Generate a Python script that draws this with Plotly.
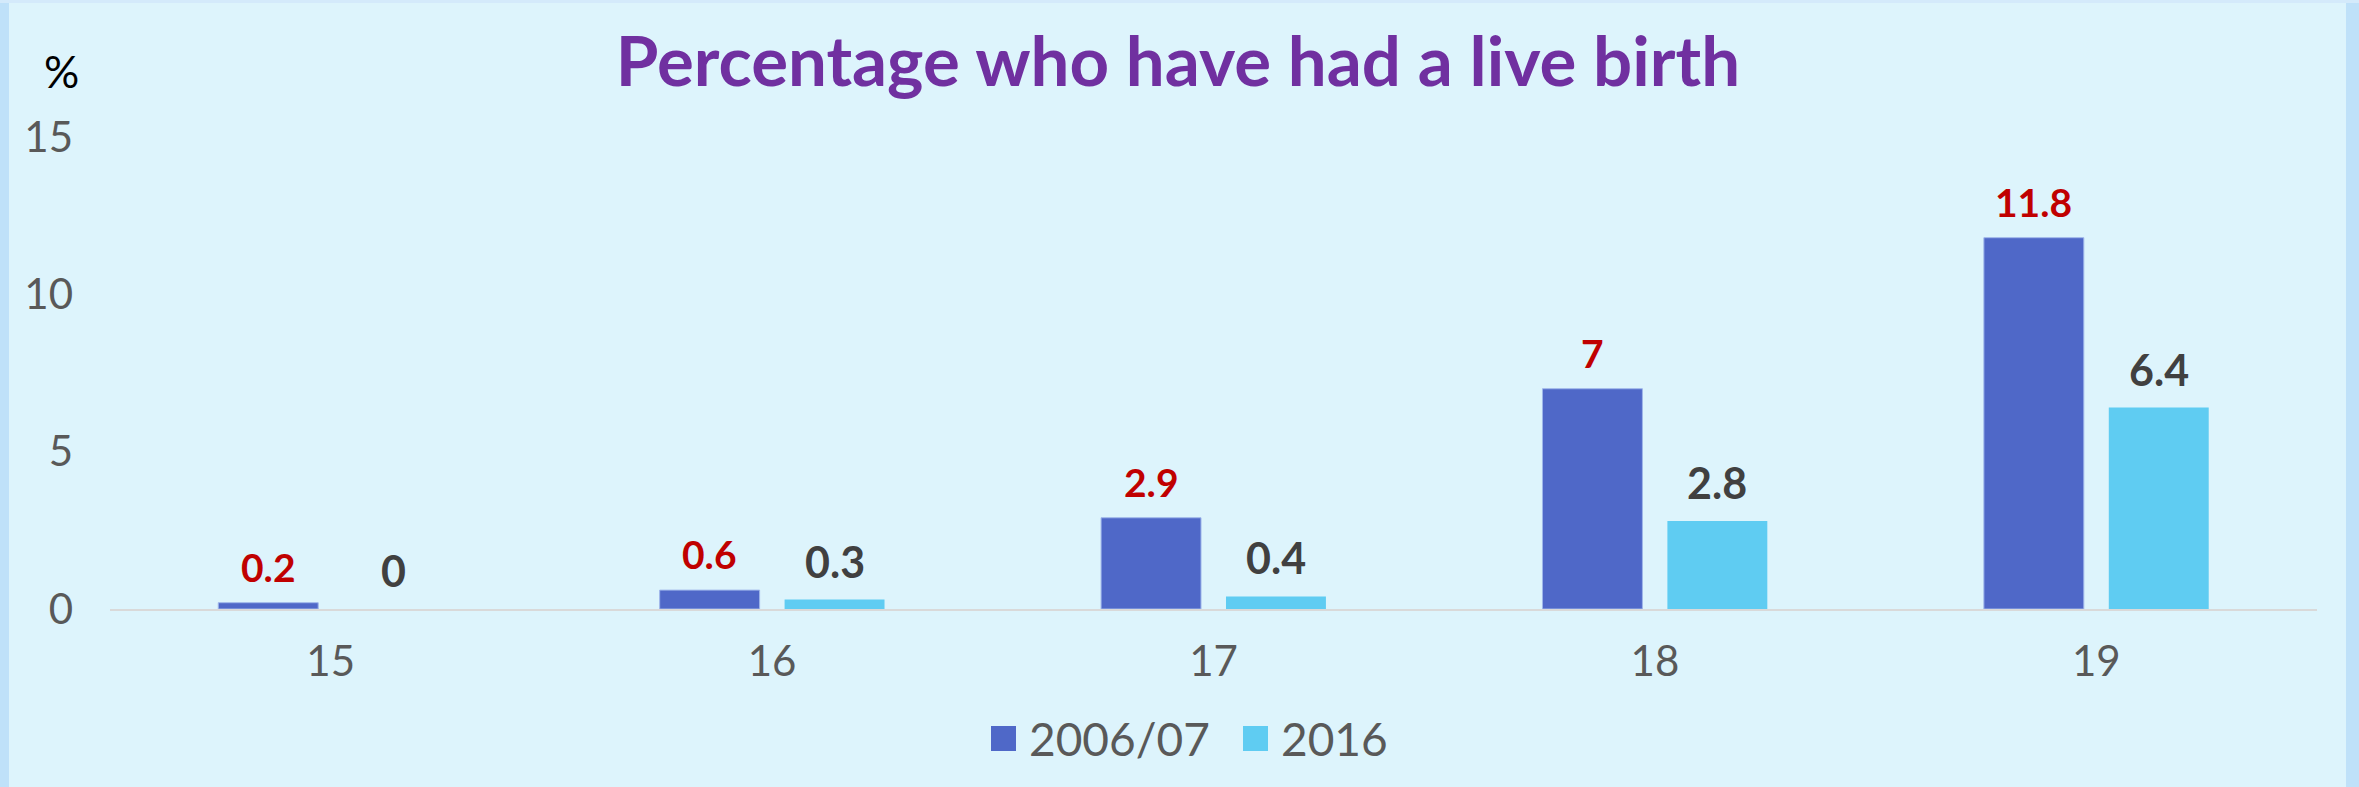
import plotly.graph_objects as go

# data
ages = ["15", "16", "17", "18", "19"]
pct_2006 = [0.2, 0.6, 2.9, 7.0, 11.8]
pct_2016 = [0.0, 0.3, 0.4, 2.8, 6.4]
series_names = ["2006/07", "2016"]
y_ticks = [0, 5, 10, 15]

W, H = 2359, 787
L, R, T, B = 110, 42, 137, 178
PW, PH = W - L - R, H - T - B
BARGAP, GROUPGAP = 0.434, 0.2

BG = "#DDF4FC"
EDGE = "#BFE1F9"
C_2006 = "#4F68C8"
C_2016 = "#5FCCF2"
LBL_2006 = "#C00000"
LBL_2016 = "#404040"
GREY = "#595959"
FONT = "Lato"


def px(x, y):
    """pixel position on the page -> paper coords"""
    return (x - L) / PW, (H - B - y) / PH


fig = go.Figure()
for name, vals, col, lw in [(series_names[0], pct_2006, C_2006, 1),
                            (series_names[1], pct_2016, C_2016, 0)]:
    fig.add_trace(go.Bar(x=ages, y=vals, name=name, showlegend=False,
                         marker=dict(color=col, line=dict(color="#9FB6EA", width=lw))))

# value labels above the bars (category axis -> annotation x is the category index)
slot = PW / len(ages) * (1 - BARGAP) / 2
anns = []
for vals, col, size, sh in [(pct_2006, LBL_2006, 39, -slot / 2),
                            (pct_2016, LBL_2016, 43, slot / 2)]:
    for i, v in enumerate(vals):
        anns.append(dict(x=i, y=v, xref="x", yref="y", text=f"{v:g}", showarrow=False,
                         xshift=sh, yshift=11, yanchor="bottom",
                         font=dict(family=FONT, size=size, color=col, weight="bold")))

# "%" unit label
x0, y0 = px(62, 71)
anns.append(dict(x=x0, y=y0, xref="paper", yref="paper", text="%", showarrow=False,
                 xanchor="center", yanchor="middle",
                 font=dict(family=FONT, size=44, color="#000000")))

# legend drawn by hand so the swatches can be as big as the original
shapes = []
for name, col, sq_x in [(series_names[0], C_2006, 991), (series_names[1], C_2016, 1243)]:
    xa, ya = px(sq_x, 751)
    xb, yb = px(sq_x + 25, 726)
    shapes.append(dict(type="rect", xref="paper", yref="paper", x0=xa, y0=ya, x1=xb, y1=yb,
                       fillcolor=col, line=dict(width=0)))
    tx, ty = px(sq_x + 36, 738)
    anns.append(dict(x=tx, y=ty, xref="paper", yref="paper", text=name, showarrow=False,
                     xanchor="left", yanchor="middle",
                     font=dict(family=FONT, size=46, color=GREY)))

# frame strips at the page edges
for (xa, ya, xb, yb), col in [((0, 0, 9, H), EDGE), ((W - 13, 0, W, H), EDGE),
                              ((0, 0, W, 3), "#D4EAFB")]:
    p0 = px(xa, yb)
    p1 = px(xb, ya)
    shapes.append(dict(type="rect", xref="paper", yref="paper", x0=p0[0], y0=p0[1],
                       x1=p1[0], y1=p1[1], fillcolor=col, line=dict(width=0), layer="below"))

fig.update_layout(
    width=W, height=H,
    margin=dict(l=L, r=R, t=T, b=B),
    paper_bgcolor=BG, plot_bgcolor=BG,
    barmode="group", bargap=BARGAP, bargroupgap=GROUPGAP,
    title=dict(text="<b>Percentage who have had a live birth</b>",
               x=1178 / W, xanchor="center", y=1 - 62 / H, yanchor="middle",
               font=dict(family=FONT, size=69, color="#7030A0")),
    xaxis=dict(type="category", range=[-0.5, len(ages) - 0.5], showgrid=False,
               showline=True, linecolor="#D9D9D9", linewidth=2, ticks="",
               ticklabelstandoff=15, tickfont=dict(family=FONT, size=42, color=GREY)),
    yaxis=dict(range=[0, 15], tickvals=y_ticks, showgrid=False, zeroline=False,
               showline=False, ticks="", ticklabelstandoff=36,
               tickfont=dict(family=FONT, size=42, color=GREY)),
    annotations=anns, shapes=shapes,
    showlegend=False,
)

# page body has an 8px default margin; drop it so the figure sits at the corner
fig.write_html("out.html", config={"displayModeBar": False},
               post_script="document.body.style.margin='0';")
